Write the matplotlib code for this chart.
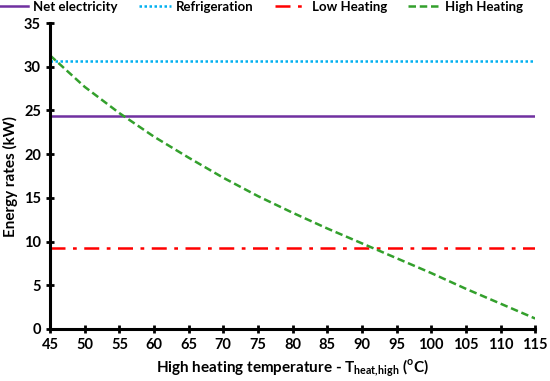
import matplotlib.pyplot as plt
import numpy as np

plt.rcParams['font.family'] = ['Lato', 'DejaVu Sans']
plt.rcParams['font.weight'] = 'bold'
plt.rcParams['mathtext.fontset'] = 'custom'
plt.rcParams['mathtext.rm'] = 'Lato:bold'
plt.rcParams['mathtext.bf'] = 'Lato:bold'

# data
temps = [45, 50, 55, 60, 65, 70, 75, 80, 85, 90, 95, 100, 105, 110, 115]
net_elec = [24.4] * len(temps)
refrig = [30.7] * len(temps)
low_heat = [9.3] * len(temps)
high_heat = [31.3, 27.7, 24.7, 22.0, 19.6, 17.3, 15.2, 13.3, 11.5, 9.8, 8.1, 6.4, 4.6, 2.9, 1.2]

fig = plt.figure(figsize=(5.5, 3.81), dpi=100)
ax = fig.add_axes([0.091, 0.1365, 0.882, 0.803])

ax.plot(temps, net_elec, color='#7030A0', lw=1.8, label='Net electricity')
ax.plot(temps, refrig, color='#00B0F0', lw=1.8, ls=(0, (1, 1)), label='Refrigeration')
ax.plot(temps, low_heat, color='#FF0000', lw=1.8, ls=(0, (6, 3, 1.5, 3)), label='Low Heating')
ax.plot(temps, high_heat, color='#33A02C', lw=1.8, ls=(0, (3, 1.5)), label='High Heating')

ax.set_xlim(45, 115)
ax.set_ylim(0, 35)
ax.set_xticks(np.arange(45, 116, 5))
ax.set_yticks(np.arange(0, 36, 5))
for s in ['top', 'right']:
    ax.spines[s].set_visible(False)
for s in ['left', 'bottom']:
    ax.spines[s].set_linewidth(2.2)
ax.tick_params(direction='inout', length=6, width=2, labelsize=10.5)

ax.set_xlabel(r'High heating temperature - T$_{\mathrm{heat,\!high}}$ ($^{\mathrm{o}}$C)', fontsize=11, fontweight='bold')
ax.set_ylabel('Energy rates (kW)', fontsize=11, fontweight='bold')

ax.legend(loc='upper center', bbox_to_anchor=(0.472, 1.005), bbox_transform=fig.transFigure,
          ncol=4, frameon=False, fontsize=9.5, handlelength=2.4, handletextpad=0.4,
          columnspacing=1.6, borderaxespad=0, borderpad=0.2)

fig.savefig('out.png', dpi=100)
